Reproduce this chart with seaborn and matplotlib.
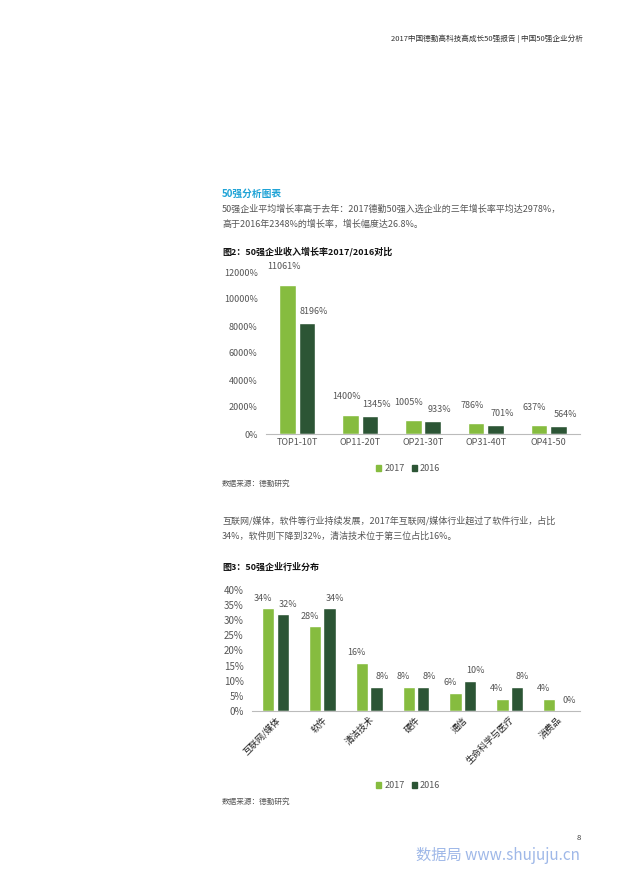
import matplotlib
matplotlib.use("Agg")
import matplotlib.pyplot as plt
import seaborn as sns
import pandas as pd

sns.set_style("white")
plt.rcParams['font.family'] = ['Noto Sans CJK SC', 'DejaVu Sans']

years = ["2017", "2016"]
groups1 = ["TOP1-10T", "OP11-20T", "OP21-30T", "OP31-40T", "OP41-50"]
growth2017 = [11061, 1400, 1005, 786, 637]
growth2016 = [8196, 1345, 933, 701, 564]
ticks1 = [0, 2000, 4000, 6000, 8000, 10000, 12000]

groups2 = ["互联网/媒体", "软件", "清洁技术", "硬件", "通信", "生命科学与医疗", "消费品"]
share2017 = [34, 28, 16, 8, 6, 4, 4]
share2016 = [32, 34, 8, 8, 10, 8, 0]
ticks2 = [0, 5, 10, 15, 20, 25, 30, 35, 40]

C17, C16 = "#86bc3f", "#2c5535"
pal = {"2017": C17, "2016": C16}
W, H = 620, 877
fig = plt.figure(figsize=(6.2, 8.77), dpi=100)

def fx(x): return x / W
def fy(y): return 1 - y / H

GRAY = "#555555"
fig.text(fx(583), fy(39), "2017中国德勤高科技高成长50强报告 | 中国50强企业分析", ha="right", va="center", fontsize=5.5, color="#333333")
fig.text(fx(222), fy(194), "50强分析图表", fontsize=7, color="#1fa3d6", fontweight="bold", va="center")
fig.text(fx(222), fy(209), "50强企业平均增长率高于去年：2017德勤50强入选企业的三年增长率平均达2978%，", fontsize=6.5, color=GRAY, va="center")
fig.text(fx(222), fy(224), "高于2016年2348%的增长率，增长幅度达26.8%。", fontsize=6.5, color=GRAY, va="center")
fig.text(fx(222), fy(252), "图2：50强企业收入增长率2017/2016对比", fontsize=6.5, color="#111111", fontweight="bold", va="center")
fig.text(fx(222), fy(484), "数据来源：德勤研究", fontsize=5.5, color=GRAY, va="center")
fig.text(fx(222), fy(521), "互联网/媒体，软件等行业持续发展，2017年互联网/媒体行业超过了软件行业，占比", fontsize=6.5, color=GRAY, va="center")
fig.text(fx(222), fy(536), "34%，软件则下降到32%，清洁技术位于第三位占比16%。", fontsize=6.5, color=GRAY, va="center")
fig.text(fx(222), fy(567), "图3：50强企业行业分布", fontsize=6.5, color="#111111", fontweight="bold", va="center")
fig.text(fx(222), fy(802), "数据来源：德勤研究", fontsize=5.5, color=GRAY, va="center")
fig.text(fx(581), fy(838), "8", fontsize=5.5, color="#333333", ha="right", va="center")
fig.text(fx(580), fy(856), "数据局 www.shujuju.cn", fontsize=11, color="#9fb8e8", ha="right", va="center", family=['Noto Sans CJK SC', 'DejaVu Serif'])

def draw(ax, cats, v17, v16, ticks, fmt, offs, tsize):
    df = pd.DataFrame({"cat": cats * 2, "year": ["2017"] * len(cats) + ["2016"] * len(cats),
                       "val": v17 + v16})
    sns.barplot(data=df, x="cat", y="val", hue="year", palette=pal, width=0.62, gap=0.15,
                ax=ax, legend=False, saturation=1)
    ax.set_ylim(ticks[0], ticks[-1])
    ax.set_yticks(ticks)
    ax.set_yticklabels([fmt(t) for t in ticks], fontsize=tsize, color=GRAY)
    ax.set_xlabel(""); ax.set_ylabel("")
    for s in ["top", "right", "left"]:
        ax.spines[s].set_visible(False)
    ax.spines["bottom"].set_color("#bbbbbb")
    ax.tick_params(axis="y", length=0, pad=6)
    ax.tick_params(axis="x", length=0, pad=3)
    for cont, vals, (dx, dy) in zip(ax.containers, [v17, v16], offs):
        for bar, v in zip(cont, vals):
            a = ax.annotate(fmt(v), (bar.get_x() + bar.get_width() / 2, bar.get_height()),
                            xytext=(dx, dy), textcoords="offset points", ha="center", va="bottom",
                            fontsize=6.5, color=GRAY)
            a.set_clip_on(False)

ax1 = fig.add_axes([fx(266), fy(434), fx(580) - fx(266), fy(272) - fy(434)])
draw(ax1, groups1, growth2017, growth2016, ticks1, lambda v: f"{v}%", ((-3, 10), (5, 5)), 6.5)
ax1.set_xticks(range(len(groups1)))
ax1.set_xticklabels(groups1, fontsize=6.5, color=GRAY)

ax2 = fig.add_axes([fx(252), fy(711), fx(580) - fx(252), fy(590) - fy(711)])
draw(ax2, groups2, share2017, share2016, ticks2, lambda v: f"{v}%", ((-4, 4), (4, 4)), 7)
ax2.set_xticks(range(len(groups2)))
ax2.set_xticklabels(groups2, fontsize=6.5, color="#222222", rotation=45, ha="right", rotation_mode="anchor")

from matplotlib.patches import Patch
for y in (469, 786):
    fig.legend(handles=[Patch(color=C17, label="2017"), Patch(color=C16, label="2016")],
               loc="center", bbox_to_anchor=(fx(408), fy(y)), ncol=2, frameon=False,
               fontsize=6.5, handlelength=0.6, handleheight=0.6, columnspacing=0.8,
               handletextpad=0.3, labelcolor=GRAY)

fig.savefig("out.png", dpi=100)
